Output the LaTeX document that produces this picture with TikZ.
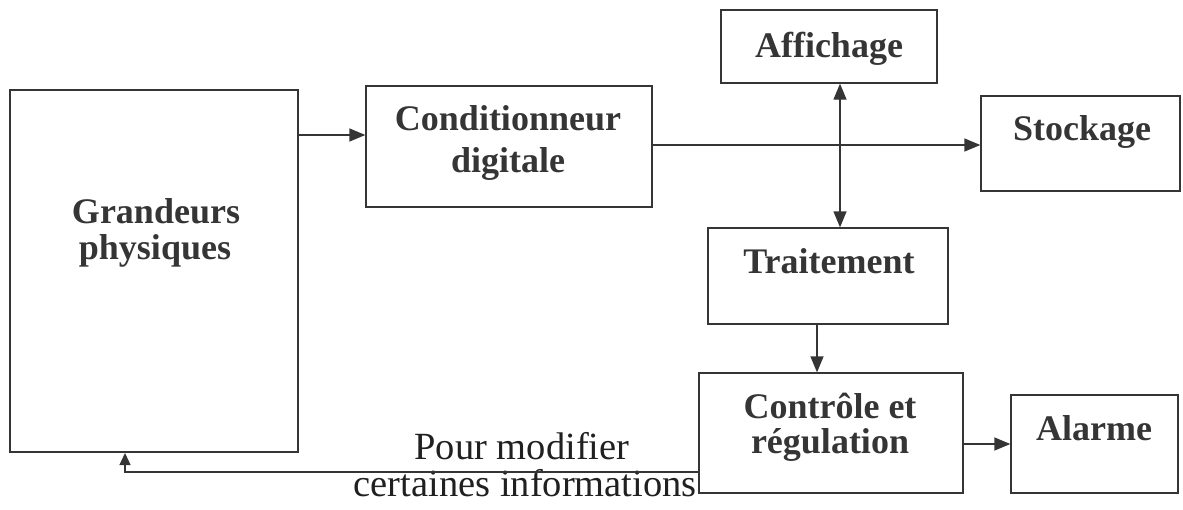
\documentclass[tikz,border=0pt]{standalone}
\usepackage{fontspec}
\setmainfont{Liberation Serif}
\usetikzlibrary{arrows.meta}
\definecolor{ink}{HTML}{353535}
\definecolor{inkdark}{HTML}{202020}
\tikzset{
  box/.style={draw=ink, line width=1.3pt, rectangle, inner sep=0pt},
  txt/.style={anchor=base, inner sep=0pt, text=ink, font=\fontsize{36}{40}\selectfont\bfseries},
  note/.style={anchor=base, inner sep=0pt, text=inkdark, font=\fontsize{38.5}{42}\selectfont},
  link/.style={draw=ink, line width=1.3pt, -{Triangle[length=16pt,width=13pt]}},
  both/.style={draw=ink, line width=1.3pt, {Triangle[length=16pt,width=13pt]}-{Triangle[length=16pt,width=13pt]}}
}
\begin{document}
\begin{tikzpicture}[x=1pt,y=-1pt]
\useasboundingbox (0,0) rectangle (1183,509);

% blocks
\node[box, minimum width=288pt, minimum height=362pt] (grand) at (154,271) {};
\node[box, minimum width=286pt, minimum height=121pt] (cond) at (509,146.5) {};
\node[box, minimum width=216pt, minimum height=73pt] (affi) at (829,46.5) {};
\node[box, minimum width=199pt, minimum height=95pt] (stock) at (1080.5,143.5) {};
\node[box, minimum width=240pt, minimum height=96pt] (trait) at (828,276) {};
\node[box, minimum width=264pt, minimum height=120pt] (ctrl) at (831,433) {};
\node[box, minimum width=167pt, minimum height=98pt] (alarm) at (1094.5,444) {};

% block texts
\node[txt] (grandA) at (156,223) {Grandeurs};
\node[txt] (grandB) at (155,259) {physiques};
\node[txt] (condA) at (508,130) {Conditionneur};
\node[txt] (condB) at (508,172) {digitale};
\node[txt] (affiT) at (829,57) {Affichage};
\node[txt] (stockT) at (1082,140) {Stockage};
\node[txt] (traitT) at (829,273) {Traitement};
\node[txt] (ctrlA) at (830,418) {Contrôle et};
\node[txt] (ctrlB) at (830,453) {régulation};
\node[txt] (alarmT) at (1094,440) {Alarme};

% feedback label
\node[note] (noteA) at (522,459) {Pour modifier};
\node[note, anchor=base east] (noteB) at (697,496) {certaines informations};

% connectors
\draw[link] (grand.east |- 0,135) -- (cond.west |- 0,135);
\draw[link] (cond.east |- 0,145) -- (stock.west |- 0,145);
\draw[both] (affi.south -| 840,0) -- (trait.north -| 840,0);
\draw[link] (trait.south -| 817,0) -- (ctrl.north -| 817,0);
\draw[link] (ctrl.east |- 0,444) -- (alarm.west |- 0,444);
\coordinate (fb) at (125,453);
\draw[link, -{Triangle[length=12pt,width=11pt]}] (ctrl.west |- 0,472) -| (fb);
\end{tikzpicture}
\end{document}
